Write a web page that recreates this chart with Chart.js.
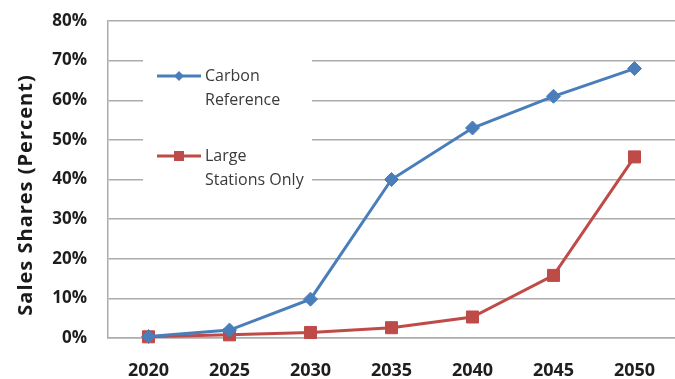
<!DOCTYPE html>
<html>
<head>
<meta charset="utf-8">
<script src="https://cdn.jsdelivr.net/npm/chart.js@4/dist/chart.umd.min.js"></script>
<style>
  html, body { margin: 0; padding: 0; background: #ffffff; }
  #wrap { width: 675px; height: 379px; position: relative; }
</style>
</head>
<body>
<div id="wrap"><canvas id="c" width="675" height="379"></canvas></div>
<script>
// Sales share projections by scenario (percent of new sales)
const years = ['2020', '2025', '2030', '2035', '2040', '2045', '2050'];
const carbonReference = [0.4, 2.0, 9.8, 40, 53, 61, 68];
const largeStationsOnly = [0.3, 0.8, 1.4, 2.6, 5.3, 15.8, 45.7];
const seriesNames = [['Carbon', 'Reference'], ['Large', 'Stations Only']];
const yTicks = [0, 10, 20, 30, 40, 50, 60, 70, 80];
const yTitle = 'Sales Shares (Percent)';

const BLUE = '#4a7ebb';
const RED = '#be4b48';
const GRID = '#acacac';

// Rotated axis title, drawn at a fixed spot left of the ticks
const axisTitle = {
  id: 'axisTitle',
  afterDraw(chart) {
    const ctx = chart.ctx;
    ctx.save();
    ctx.translate(26, 195);
    ctx.rotate(-Math.PI / 2);
    ctx.font = 'bold 20px "Open Sans"';
    ctx.letterSpacing = '1px';
    ctx.fillStyle = '#1a1a1a';
    ctx.textAlign = 'center';
    ctx.textBaseline = 'middle';
    ctx.fillText(yTitle, 0, 0);
    ctx.restore();
  }
};

// Legend box sitting inside the plot area, two-line labels
const insideLegend = {
  id: 'insideLegend',
  afterDraw(chart) {
    const ctx = chart.ctx;
    ctx.save();
    ctx.fillStyle = '#ffffff';
    ctx.fillRect(143, 48, 169, 148);
    const rows = [76, 156];
    chart.data.datasets.forEach((ds, i) => {
      const y = rows[i];
      ctx.strokeStyle = ds.borderColor;
      ctx.lineWidth = 3;
      ctx.beginPath();
      ctx.moveTo(157, y);
      ctx.lineTo(201, y);
      ctx.stroke();
      ctx.fillStyle = ds.borderColor;
      ctx.beginPath();
      if (ds.pointStyle === 'rectRot') {
        const r = 5;
        ctx.moveTo(179, y - r);
        ctx.lineTo(179 + r, y);
        ctx.lineTo(179, y + r);
        ctx.lineTo(179 - r, y);
        ctx.closePath();
      } else {
        ctx.rect(174, y - 5, 10, 10);
      }
      ctx.fill();
      ctx.font = '16px "Open Sans"';
      ctx.fillStyle = '#3a3a3a';
      ctx.textAlign = 'left';
      ctx.textBaseline = 'middle';
      seriesNames[i].forEach((line, k) => {
        ctx.fillText(line, 205, y + k * 24);
      });
    });
    ctx.restore();
  }
};

new Chart(document.getElementById('c'), {
  type: 'line',
  data: {
    labels: years,
    datasets: [
      {
        label: seriesNames[0].join(' '),
        data: carbonReference,
        borderColor: BLUE,
        backgroundColor: BLUE,
        pointBackgroundColor: BLUE,
        pointBorderColor: BLUE,
        borderWidth: 3,
        pointStyle: 'rectRot',
        pointRadius: 7,
        pointBorderWidth: 1,
        tension: 0,
        clip: false
      },
      {
        label: seriesNames[1].join(' '),
        data: largeStationsOnly,
        borderColor: RED,
        backgroundColor: RED,
        pointBackgroundColor: RED,
        pointBorderColor: RED,
        borderWidth: 3,
        pointStyle: 'rect',
        pointRadius: 8.5,
        pointBorderWidth: 1,
        tension: 0,
        clip: false
      }
    ]
  },
  options: {
    responsive: false,
    animation: false,
    layout: { padding: { top: 21, right: 0, bottom: 0, left: 0 }, autoPadding: false },
    plugins: {
      legend: { display: false },
      tooltip: { enabled: false }
    },
    scales: {
      x: {
        offset: true,
        grid: { display: false, drawTicks: false },
        border: { display: true, color: GRID, width: 1.5 },
        ticks: {
          padding: 22,
          color: '#1e1e1e',
          font: { family: 'Open Sans', size: 18, weight: 'bold' }
        },
        afterFit(scale) {
          scale.height = 41;
          scale.paddingLeft = 0;
          scale.paddingRight = 0;
        }
      },
      y: {
        min: yTicks[0],
        max: yTicks[yTicks.length - 1],
        afterBuildTicks(scale) { scale.ticks = yTicks.map(v => ({ value: v })); },
        grid: { color: GRID, lineWidth: 1.5, drawTicks: false },
        border: { display: true, color: GRID, width: 1.5 },
        ticks: {
          padding: 21,
          color: '#1e1e1e',
          font: { family: 'Open Sans', size: 17, weight: 'bold' },
          callback: v => v + '%'
        },
        afterFit(scale) {
          scale.width = 108;
          scale.paddingTop = 0;
          scale.paddingBottom = 0;
        }
      }
    }
  },
  plugins: [axisTitle, insideLegend]
});
</script>
</body>
</html>
